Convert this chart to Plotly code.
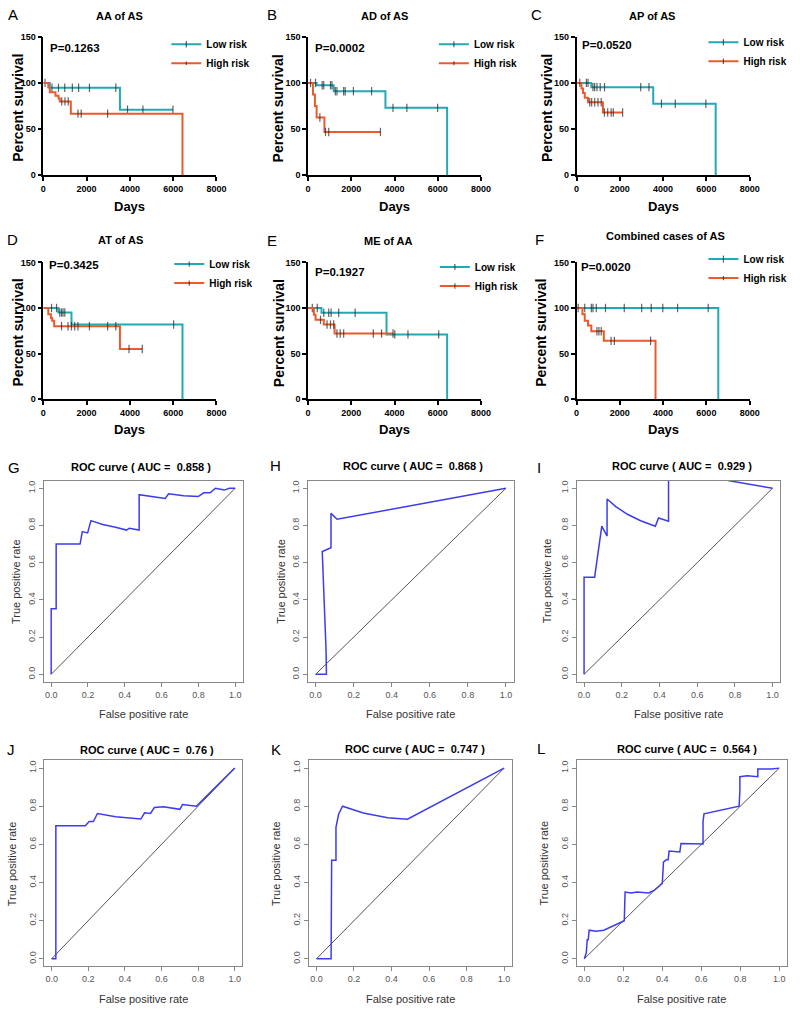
import plotly.graph_objects as go

W, H = 800, 1016
OFF = 0
FONT = "Liberation Sans, Arial, sans-serif"
TEAL = "#22a9b6"
ORANGE = "#ea5a2e"
BLUE = "#3c3cee"

# ---------------- Kaplan-Meier data (days, percent survival, censored flag) ----------------
A_low_t = [80, 300, 400, 700, 990, 1340, 1630, 2130, 3350, 3540, 3890, 4600, 5990]
A_low_s = [100, 94.7, 94.7, 94.7, 94.7, 94.7, 94.7, 94.7, 94.7, 71.0, 71.0, 71.0, 71.0]
A_low_c = [1, 0, 1, 1, 1, 1, 1, 1, 1, 0, 1, 1, 1]
A_high_t = [230, 300, 560, 700, 760, 850, 1000, 1150, 1270, 1600, 1750, 2970, 6430]
A_high_s = [95, 90, 86, 83, 80, 80, 80, 80, 66.7, 66.7, 66.7, 66.7, 0]
A_high_c = [0, 0, 0, 0, 0, 1, 1, 1, 0, 1, 1, 1, 0]

B_low_t = [350, 400, 655, 730, 1040, 1110, 1190, 1265, 1340, 1650, 1720, 2100, 2940, 3580, 3930, 4570, 5990, 6430]
B_low_s = [100, 97.5, 97.5, 97.5, 97.5, 97.5, 91, 91, 91, 91, 91, 91, 91, 73, 73, 73, 73, 0]
B_low_c = [1, 0, 1, 1, 1, 1, 0, 1, 1, 1, 1, 1, 1, 0, 1, 1, 1, 0]
B_high_t = [120, 230, 320, 400, 550, 760, 810, 960, 3350]
B_high_s = [100, 87.5, 75, 62.5, 62.5, 46.9, 46.9, 46.9, 46.9]
B_high_c = [1, 0, 0, 0, 1, 0, 1, 1, 1]

C_low_t = [456, 532, 684, 760, 836, 943, 1095, 1293, 2966, 3346, 3544, 3924, 4563, 5977, 6430]
C_low_s = [100, 100, 95.4, 95.4, 95.4, 95.4, 95.4, 95.4, 95.4, 95.4, 77.5, 77.5, 77.5, 77.5, 0]
C_low_c = [1, 1, 0, 1, 1, 1, 1, 1, 1, 1, 0, 1, 1, 1, 0]
C_high_t = [150, 230, 300, 380, 530, 610, 700, 840, 990, 1140, 1220, 1290, 1440, 1600, 1700, 2130]
C_high_s = [100, 94, 89, 84, 79, 79, 79, 79, 79, 79, 68, 68, 68, 68, 68, 68]
C_high_c = [1, 0, 0, 0, 0, 1, 1, 1, 1, 1, 0, 1, 1, 1, 1, 1]

D_low_t = [380, 610, 690, 760, 840, 910, 990, 1300, 6020, 6430]
D_low_s = [100, 100, 95, 95, 95, 95, 95, 81.8, 81.8, 0]
D_low_c = [1, 1, 0, 1, 1, 1, 1, 0, 1, 0]
D_high_t = [230, 350, 410, 500, 840, 1140, 1300, 1450, 1600, 2130, 2970, 3350, 3540, 3960, 4570]
D_high_s = [93, 89, 86, 80, 80, 80, 80, 80, 80, 80, 80, 80, 55, 55, 55]
D_high_c = [0, 0, 0, 0, 1, 1, 1, 1, 1, 1, 1, 1, 0, 1, 1]

E_low_t = [200, 430, 625, 730, 960, 1070, 1420, 2180, 3630, 4010, 4620, 6040, 6430]
E_low_s = [100, 100, 94.7, 94.7, 94.7, 94.7, 94.7, 94.7, 71, 71, 71, 71, 0]
E_low_c = [1, 1, 0, 1, 1, 1, 1, 1, 0, 1, 1, 1, 0]
E_high_t = [274, 350, 580, 730, 880, 1040, 1190, 1230, 1340, 1490, 1650, 3020, 3400, 3930]
E_high_s = [92.7, 87, 87, 81.8, 81.8, 81.8, 81.8, 72, 72, 72, 72, 72, 72, 72]
E_high_c = [0, 0, 1, 0, 1, 1, 1, 0, 1, 1, 1, 1, 1, 1]

F_low_t = [380, 684, 760, 913, 1338, 2205, 3011, 3452, 3985, 4669, 6084, 6550]
F_low_s = [100, 100, 100, 100, 100, 100, 100, 100, 100, 100, 100, 0]
F_low_c = [1, 1, 1, 1, 1, 1, 1, 1, 1, 1, 1, 0]
F_high_t = [76, 274, 380, 532, 684, 943, 1034, 1141, 1262, 1597, 1749, 3422, 3650]
F_high_s = [100, 93, 86, 80.7, 74.4, 74.4, 74.4, 74.4, 63.9, 63.9, 63.9, 63.9, 0]
F_high_c = [1, 0, 0, 0, 0, 1, 1, 1, 0, 1, 1, 1, 0]

km_titles = ["AA of AS", "AD of AS", "AP of AS", "AT of AS", "ME of AA", "Combined cases of AS"]
km_pvalues = ["P=0.1263", "P=0.0002", "P=0.0520", "P=0.3425", "P=0.1927", "P=0.0020"]
km_letters = ["A", "B", "C", "D", "E", "F"]
km_xticks = [0, 2000, 4000, 6000, 8000]
km_yticks = [0, 50, 100, 150]

# ---------------- ROC data ----------------
G_fpr = [0, 0, 0.023, 0.027, 0.027, 0.157, 0.169, 0.198, 0.216, 0.28, 0.35, 0.41, 0.424, 0.45, 0.478, 0.478, 0.55, 0.62, 0.638, 0.72, 0.799, 0.829, 0.864, 0.893, 0.941, 0.968, 1.0]
G_tpr = [0, 0.353, 0.353, 0.353, 0.70, 0.70, 0.767, 0.76, 0.826, 0.805, 0.79, 0.775, 0.785, 0.78, 0.775, 0.965, 0.955, 0.945, 0.97, 0.96, 0.955, 0.975, 0.975, 1.0, 0.99, 1.0, 1.0]
H_fpr = [0, 0.057, 0.055, 0.035, 0.081, 0.081, 0.113, 1.0]
H_tpr = [0, 0, 0.13, 0.66, 0.68, 0.865, 0.833, 1.0]
I_fpr = [0, 0, 0.056, 0.094, 0.122, 0.122, 0.17, 0.23, 0.30, 0.378, 0.395, 0.448, 0.448, 0.6, 0.77, 1.0]
I_tpr = [0, 0.522, 0.522, 0.796, 0.743, 0.942, 0.90, 0.86, 0.825, 0.796, 0.84, 0.823, 1.12, 1.09, 1.04, 1.0]
J_fpr = [0, 0.023, 0.023, 0.184, 0.205, 0.228, 0.25, 0.35, 0.487, 0.508, 0.54, 0.561, 0.611, 0.70, 0.715, 0.79, 1.0]
J_tpr = [0, 0, 0.698, 0.698, 0.72, 0.72, 0.762, 0.745, 0.733, 0.766, 0.762, 0.793, 0.797, 0.784, 0.809, 0.80, 1.0]
K_fpr = [0, 0.078, 0.081, 0.104, 0.104, 0.118, 0.139, 0.25, 0.38, 0.485, 1.0]
K_tpr = [0, 0, 0.517, 0.517, 0.69, 0.758, 0.80, 0.765, 0.74, 0.732, 1.0]
L_fpr = [0, 0.01, 0.015, 0.02, 0.025, 0.06, 0.1, 0.2, 0.205, 0.209, 0.24, 0.27, 0.33, 0.36, 0.40, 0.406, 0.42, 0.43, 0.435, 0.49, 0.496, 0.609, 0.609, 0.614, 0.794, 0.798, 0.798, 0.836, 0.89, 0.89, 0.93, 0.96, 1.0]
L_tpr = [0, 0.03, 0.1, 0.1, 0.15, 0.145, 0.15, 0.2, 0.2, 0.35, 0.345, 0.35, 0.345, 0.36, 0.395, 0.507, 0.52, 0.52, 0.565, 0.56, 0.605, 0.602, 0.72, 0.76, 0.80, 0.88, 0.955, 0.96, 0.955, 0.995, 0.995, 0.995, 1.0]
roc_auc = ["0.858", "0.868", "0.929", "0.76", "0.747", "0.564"]
roc_letters = ["G", "H", "I", "J", "K", "L"]
roc_ticks = [0, 0.2, 0.4, 0.6, 0.8, 1.0]
roc_ticktext = ["0.0", "0.2", "0.4", "0.6", "0.8", "1.0"]
diag = [0, 1]

km_data = [
    (A_low_t, A_low_s, A_low_c, A_high_t, A_high_s, A_high_c),
    (B_low_t, B_low_s, B_low_c, B_high_t, B_high_s, B_high_c),
    (C_low_t, C_low_s, C_low_c, C_high_t, C_high_s, C_high_c),
    (D_low_t, D_low_s, D_low_c, D_high_t, D_high_s, D_high_c),
    (E_low_t, E_low_s, E_low_c, E_high_t, E_high_s, E_high_c),
    (F_low_t, F_low_s, F_low_c, F_high_t, F_high_s, F_high_c),
]
roc_data = [(G_fpr, G_tpr), (H_fpr, H_tpr), (I_fpr, I_tpr), (J_fpr, J_tpr), (K_fpr, K_tpr), (L_fpr, L_tpr)]

# ---------------- layout geometry (pixels, screen coordinates) ----------------
km_xpx = [(41, 217), (310, 486), (583, 759)]
km_ypx = [(32, 172), (260, 398)]
roc_xpx = [[(41.5, 243.5), (310, 519), (583, 790)], [(42, 243), (311, 517), (583, 797)]]
roc_ypx = [(480.5, 683.5), (763, 971)]


def px(x):
    return (x - OFF) / W


def py(y):
    return 1 - (y - OFF) / H


fig = go.Figure()
layout = dict(width=W, height=H, margin=dict(l=0, r=0, t=0, b=0),
              paper_bgcolor="white", plot_bgcolor="white",
              font=dict(family=FONT, color="black"), showlegend=True)
annotations = []


def ann(text, x, y, size, bold=False, xanchor="center", color="black", angle=0):
    annotations.append(dict(text=text, x=px(x), y=py(y), xref="paper", yref="paper",
                            showarrow=False, xanchor=xanchor, yanchor="middle", textangle=angle,
                            font=dict(family=FONT, size=size, color=color,
                                      weight="bold" if bold else "normal")))


def steps(t, s, c):
    xs = [0] + list(t)
    ys = [100] + list(s)
    sz = [0] + [6 if ci else 0 for ci in c]
    return xs, ys, sz


# legend text start x, first item center y
km_leg = [(208, 43), (480, 43), (754, 41), (211, 265), (481, 268), (754, 260)]

for k in range(6):
    idx = k + 1
    r, col = divmod(k, 3)
    x0, x1 = km_xpx[col]
    ytop, ybot = km_ypx[r]
    xa = "xaxis" if idx == 1 else f"xaxis{idx}"
    ya = "yaxis" if idx == 1 else f"yaxis{idx}"
    lg = "legend" if idx == 1 else f"legend{idx}"
    lt, ls, lc, ht, hs, hc = km_data[k]
    for (t, s, c, name, color) in [(lt, ls, lc, "Low risk", TEAL), (ht, hs, hc, "High risk", ORANGE)]:
        xs, ys, sz = steps(t, s, c)
        fig.add_trace(go.Scatter(x=xs, y=ys, mode="lines+markers", name=name,
                                 legendgroup=f"{lg}_{name}",
                                 line=dict(shape="hv", color=color, width=2),
                                 marker=dict(symbol="line-ns", size=sz, color="#222",
                                             line=dict(width=1.2, color="#222")),
                                 xaxis=f"x{idx}", yaxis=f"y{idx}", legend=lg, cliponaxis=False))
    axstyle = dict(showline=True, linecolor="black", linewidth=1.5, ticks="outside", ticklen=4,
                   tickwidth=1.5, tickcolor="black", showgrid=False, zeroline=False,
                   tickfont=dict(family=FONT, size=9, weight="bold"))
    layout[xa] = dict(domain=[px(x0), px(x1)], range=[0, 8000], tickvals=km_xticks,
                      anchor=f"y{idx}", **axstyle)
    layout[ya] = dict(domain=[py(ybot), py(ytop)], range=[0, 150], tickvals=km_yticks,
                      anchor=f"x{idx}", **axstyle)
    tx, ty = km_leg[k]
    layout[lg] = dict(x=px(tx - 42), y=py(ty - 18), xanchor="left", yanchor="top",
                      bgcolor="rgba(0,0,0,0)", itemwidth=30, traceorder="normal",
                      tracegroupgap=3,
                      font=dict(family=FONT, size=10, weight="bold"))

# KM annotations
km_letter_pos = [(10, 10), (273, 10), (542, 10), (10, 237), (273, 238), (545, 237)]
km_title_pos = [(118, 11), (388, 11), (660, 11), (119, 237), (392, 238), (673, 233)]
km_p_pos = [(46, 43), (315, 43), (587, 40), (45, 263), (315, 270), (586, 265)]
km_ytitle_x = [15, 280, 553, 15, 280, 547]
for k in range(6):
    r, col = divmod(k, 3)
    x0, x1 = km_xpx[col]
    ytop, ybot = km_ypx[r]
    ann(km_letters[k], *km_letter_pos[k], 15)
    ann(km_titles[k], *km_title_pos[k], 11, bold=True)
    ann(km_pvalues[k], *km_p_pos[k], 11.5, bold=True, xanchor="left")
    ann("Percent survival", km_ytitle_x[k], (ytop + ybot) / 2 + 2, 14, bold=True, angle=-90)
    ann("Days", (x0 + x1) / 2, ybot + 31, 13, bold=True)

# ROC panels
roc_letter_pos = [(11, 467), (277, 465), (545, 467), (8, 752), (278, 752), (547, 751)]
roc_title_pos = [(140, 467), (417, 466), (690, 466), (146, 752), (419, 751), (695, 751)]
roc_ytitle_x = [13, 283, 553, 10, 278, 550]
for k in range(6):
    idx = k + 7
    r, col = divmod(k, 3)
    x0, x1 = roc_xpx[r][col]
    ytop, ybot = roc_ypx[r]
    fpr, tpr = roc_data[k]
    fig.add_trace(go.Scatter(x=diag, y=diag, mode="lines", line=dict(color="#555", width=1),
                             xaxis=f"x{idx}", yaxis=f"y{idx}", showlegend=False))
    fig.add_trace(go.Scatter(x=fpr, y=tpr, mode="lines", line=dict(color=BLUE, width=1.5),
                             xaxis=f"x{idx}", yaxis=f"y{idx}", showlegend=False))
    axstyle = dict(showline=True, mirror=True, linecolor="#888", linewidth=1, ticks="outside",
                   ticklen=4, tickcolor="#888", showgrid=False, zeroline=False,
                   range=[-0.04, 1.04], tickvals=roc_ticks, ticktext=roc_ticktext,
                   tickfont=dict(family=FONT, size=9, color="#555"))
    layout[f"xaxis{idx}"] = dict(domain=[px(x0), px(x1)], anchor=f"y{idx}", **axstyle)
    layout[f"yaxis{idx}"] = dict(domain=[py(ybot), py(ytop)], anchor=f"x{idx}", tickangle=-90, **axstyle)
    ann(roc_letters[k], *roc_letter_pos[k], 15)
    ann(f"ROC curve ( AUC =  {roc_auc[k]} )", *roc_title_pos[k], 11, bold=True)
    ann("True positive rate", roc_ytitle_x[k], (ytop + ybot) / 2, 11, color="#333", angle=-90)
    ann("False positive rate", (x0 + x1) / 2, ybot + 33, 11, color="#333")

layout["annotations"] = annotations
fig.update_layout(**layout)
# remove the default page margin so the figure sits at the window's top-left corner
fig.write_html("out.html", config={"displayModeBar": False},
               post_script="document.body.style.margin='0px';")
